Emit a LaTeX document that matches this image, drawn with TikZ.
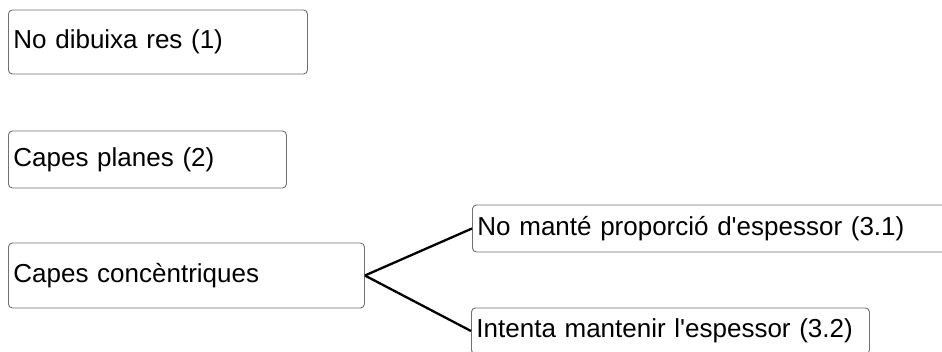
\documentclass[tikz,border=0pt]{standalone}
\usepackage{fontspec}
\setmainfont{Liberation Sans}
\definecolor{boxline}{RGB}{112,112,112}
\begin{document}
\begin{tikzpicture}[x=1pt,y=-1pt,
  optbox/.style={draw=boxline, line width=0.9pt, rounded corners=4pt,
    anchor=west, inner xsep=5pt, inner ysep=0pt, align=left,
    font=\fontsize{26}{30}\selectfont},
  link/.style={line width=2.3pt, black}]
  \useasboundingbox (0,0) rectangle (942,351);
  \clip (0,0) rectangle (942,351);

  \node[optbox, text width=289pt, minimum height=64pt] (res) at (8,42) {No dibuixa res (1)};
  \node[optbox, text width=268pt, minimum height=57pt] (planes) at (8,159.5) {Capes planes (2)};
  \node[optbox, text width=346pt, minimum height=65pt] (conc) at (8,275.5) {Capes concèntriques};
  \node[optbox, text width=480pt, minimum height=47pt] (nomante) at (472,228.5) {No manté proporció d\textquotesingle espessor (3.1)};
  \node[optbox, text width=388pt, minimum height=46pt] (intenta) at (471,331) {Intenta mantenir l\textquotesingle espessor (3.2)};

  \draw[link] (conc.east) -- (nomante.west);
  \draw[link] (conc.east) -- (intenta.west);
\end{tikzpicture}
\end{document}
